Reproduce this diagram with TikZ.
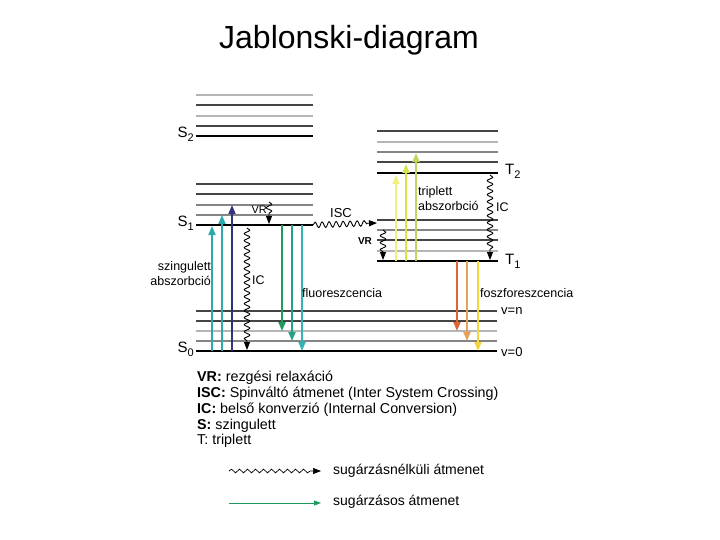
\documentclass[tikz,border=0pt]{standalone}
\usepackage{fontspec}
\setmainfont{Liberation Sans}
\usepackage{tikz}
\usetikzlibrary{arrows.meta,positioning,decorations.pathmorphing}

\definecolor{lvdark}{HTML}{454545}
\definecolor{lvmid}{HTML}{858585}
\definecolor{lvlight}{HTML}{B5B5B5}
\definecolor{abs}{HTML}{2BA9AC}
\definecolor{absdeep}{HTML}{33337A}
\definecolor{fluA}{HTML}{1E9A5E}
\definecolor{fluB}{HTML}{22A286}
\definecolor{fluC}{HTML}{33B3B3}
\definecolor{tabsA}{HTML}{EEF27A}
\definecolor{tabsB}{HTML}{D6E44A}
\definecolor{tabsC}{HTML}{BCD65E}
\definecolor{phoA}{HTML}{DF6632}
\definecolor{phoB}{HTML}{E8A257}
\definecolor{phoC}{HTML}{F2D63A}

\newcommand{\lvl}[2]{#1\raisebox{-4pt}{\fontsize{11}{11}\selectfont #2}}

\begin{document}
\begin{tikzpicture}[x=1pt, y=-1pt,
    level/.style={line width=1.2pt},
    ground/.style={line width=2.5pt},
    rad/.style={line width=1.8pt, -{Triangle[length=9pt,width=7pt]}},
    nonrad/.style={line width=0.9pt, decorate,
      decoration={snake, amplitude=2.8pt, segment length=7pt, post length=8pt},
      -{Triangle[length=8pt,width=6pt]}},
    lbl/.style={font=\fontsize{12.5}{15}\selectfont, inner sep=0pt},
    sym/.style={font=\fontsize{15}{15}\selectfont, inner sep=0pt}
  ]
  \useasboundingbox (0,0) rectangle (720,540);
  \node[font=\fontsize{32}{32}\selectfont] (title) at (349,40) {Jablonski-diagram};

  % singlet levels
  \foreach \y/\c in {95/lvlight,105/lvdark,116/lvlight,126/lvdark,
                     184/lvdark,194/lvdark,205/lvmid,215/lvmid}
    \draw[level, \c] (196,\y) -- (313,\y);
  \foreach \y/\c in {311/lvdark,321/lvdark,331/lvlight,341/lvmid}
    \draw[level, \c] (196,\y) -- (497,\y);
  % triplet levels
  \foreach \y/\c in {131/lvdark,142/lvlight,152/lvmid,162/lvdark,
                     220/lvdark,230/lvmid,240/lvdark,251/lvlight}
    \draw[level, \c] (377,\y) -- (498,\y);

  % ground lines of each state
  \coordinate (S2l) at (196,136); \coordinate (S2r) at (313,136);
  \coordinate (S1l) at (196,225); \coordinate (S1r) at (313,225);
  \coordinate (S0l) at (196,351); \coordinate (S0r) at (497,351);
  \coordinate (T2l) at (377,173); \coordinate (T2r) at (498,173);
  \coordinate (T1l) at (377,261); \coordinate (T1r) at (498,261);
  \draw[ground] (S2l) -- (S2r);
  \draw[ground] (S1l) -- (S1r);
  \draw[ground] (S0l) -- (S0r);
  \draw[ground] (T2l) -- (T2r);
  \draw[ground] (T1l) -- (T1r);

  \node[sym, anchor=east] (s2) at (194,134) {\lvl{S}{2}};
  \node[sym, anchor=east] (s1) at (194,223) {\lvl{S}{1}};
  \node[sym, anchor=east] (s0) at (194,349) {\lvl{S}{0}};
  \node[sym, anchor=west] (t2) at (505,171) {\lvl{T}{2}};
  \node[sym, anchor=west] (t1) at (505,261) {\lvl{T}{1}};
  \node[lbl, anchor=west, font=\fontsize{13}{13}\selectfont] (vn) at (501,311) {v=n};
  \node[lbl, anchor=west, font=\fontsize{13}{13}\selectfont] (v0) at (501,352) {v=0};

  % singlet absorption
  \foreach \i/\x/\yb/\c in {1/212/226/abs,2/222/215/abs,3/232/205/absdeep} {
    \coordinate (sa\i) at (\x,351); \coordinate (sb\i) at (\x,\yb);
    \draw[rad, \c] (sa\i) -- (sb\i);
  }
  \node[lbl, anchor=east, align=right] (sabs) at (211,274) {szingulett\\abszorbció};

  % fluorescence
  \foreach \i/\x/\yb/\c in {1/282/331/fluA,2/292/341/fluB,3/302/351/fluC} {
    \coordinate (fa\i) at (\x,225); \coordinate (fb\i) at (\x,\yb);
    \draw[rad, \c] (fa\i) -- (fb\i);
  }
  \node[lbl, anchor=west] (fluo) at (302,293) {fluoreszcencia};

  % triplet absorption
  \foreach \i/\x/\yb/\c in {1/396/175/tabsA,2/406/164/tabsB,3/416/153/tabsC} {
    \coordinate (ta\i) at (\x,261); \coordinate (tb\i) at (\x,\yb);
    \draw[rad, \c] (ta\i) -- (tb\i);
  }
  \node[lbl, anchor=west, align=left] (tabs) at (418,199) {triplett\\abszorbció};

  % phosphorescence
  \foreach \i/\x/\yb/\c in {1/457/331/phoA,2/467/341/phoB,3/478/351/phoC} {
    \coordinate (pa\i) at (\x,261); \coordinate (pb\i) at (\x,\yb);
    \draw[rad, \c] (pa\i) -- (pb\i);
  }
  \node[lbl, anchor=west] (phos) at (480,293) {foszforeszcencia};

  % radiationless transitions
  \coordinate (icSa) at (247,228); \coordinate (icSb) at (247,350);
  \draw[nonrad] (icSa) -- (icSb);
  \node[lbl, anchor=west] (icS) at (252,280) {IC};
  \coordinate (vrSa) at (269,202); \coordinate (vrSb) at (269,224);
  \draw[nonrad] (vrSa) -- (vrSb);
  \node[lbl, anchor=east, font=\fontsize{11}{11}\selectfont] (vrS) at (267,210) {VR};
  \coordinate (iscb) at (377,223);
  \draw[nonrad] (S1r) -- (iscb);
  \node[lbl, font=\fontsize{13}{13}\selectfont] (isc) at (341,213) {ISC};
  \coordinate (vrTa) at (383,230); \coordinate (vrTb) at (383,260);
  \draw[nonrad] (vrTa) -- (vrTb);
  \node[lbl, font=\bfseries\fontsize{10}{10}\selectfont] (vrT) at (365,241) {VR};
  \coordinate (icTa) at (490,175); \coordinate (icTb) at (490,260);
  \draw[nonrad] (icTa) -- (icTb);
  \node[lbl, anchor=west] (icT) at (496,207) {IC};

  % key
  \node[anchor=north west, align=left, inner sep=0pt,
        font=\fontsize{14.3}{15.8}\selectfont] (key) at (197,371)
    {\textbf{VR:} rezgési relaxáció\\
     \textbf{ISC:} Spinváltó átmenet (Inter System Crossing)\\
     \textbf{IC:} belső konverzió (Internal Conversion)\\
     \textbf{S:} szingulett\\
     T: triplett};
  \coordinate (k1a) at (229,471); \coordinate (k1b) at (321,471);
  \draw[nonrad, line width=0.7pt, decoration={amplitude=1.8pt, segment length=8pt}] (k1a) -- (k1b);
  \node[lbl, anchor=west, font=\fontsize{14}{14}\selectfont] (k1) at (333,471) {sugárzásnélküli átmenet};
  \coordinate (k2a) at (229,503); \coordinate (k2b) at (321,503);
  \draw[line width=1pt, fluA, -{Triangle[length=7pt,width=5pt]}] (k2a) -- (k2b);
  \node[lbl, anchor=west, font=\fontsize{14}{14}\selectfont] (k2) at (333,502) {sugárzásos átmenet};
\end{tikzpicture}
\end{document}
